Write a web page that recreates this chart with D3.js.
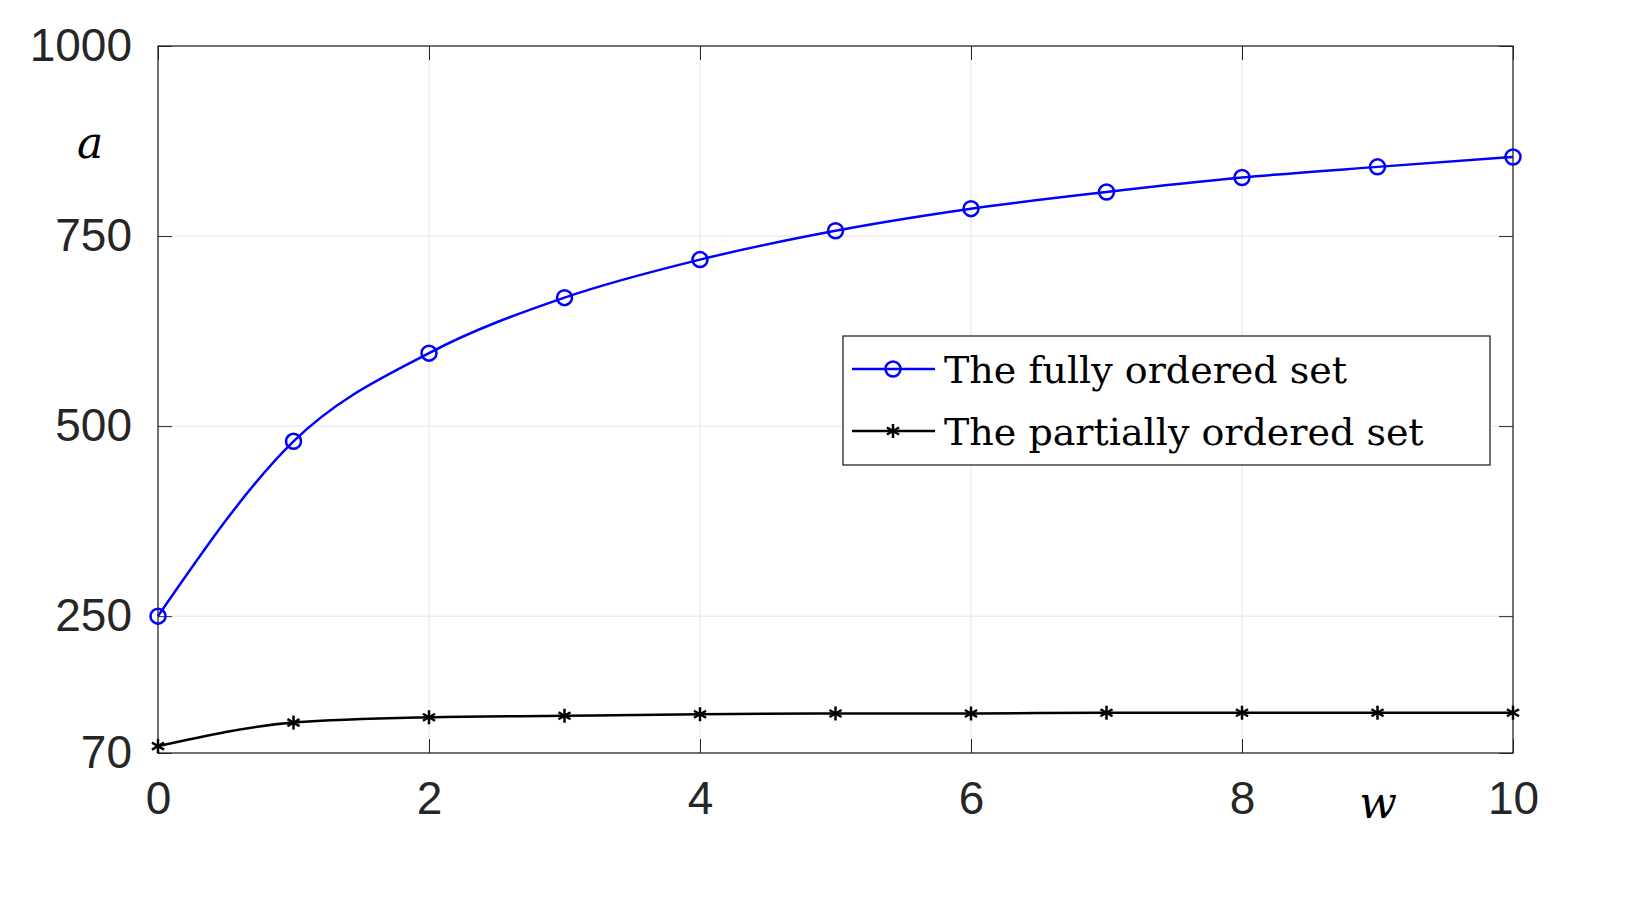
<!DOCTYPE html>
<html>
<head>
<script src="https://cdn.jsdelivr.net/npm/d3@7"></script>
<style>
  body { margin: 0; background: #fff; }
  .tick text { font-family: 'Liberation Sans', Arial, sans-serif; font-size: 46px; fill: #262626; }
</style>
</head>
<body>
<script>
var wValues = [0, 1, 2, 3, 4, 5, 6, 7, 8, 9, 10];
var fullyOrdered = [250, 480, 596, 669, 719, 757, 786, 808, 827, 841, 854];
var partiallyOrdered = [79, 110, 117, 119, 121, 122, 122, 123, 123, 123, 123];
var xTicks = [0, 2, 4, 6, 8, 10];
var yTicks = [70, 250, 500, 750, 1000];
var seriesNames = ["The fully ordered set", "The partially ordered set"];

var W = 1644, H = 910;
var pLeft = 158, pRight = 1513, pTop = 46, pBottom = 753;

var svg = d3.select("body").append("svg").attr("width", W).attr("height", H);

var x = d3.scaleLinear().domain([0, 10]).range([pLeft, pRight]);
var y = d3.scaleLinear().domain([70, 1000]).range([pBottom, pTop]);

// grid
svg.append("g").selectAll("line").data(xTicks.slice(1, -1)).enter().append("line")
  .attr("x1", d => x(d)).attr("x2", d => x(d)).attr("y1", pTop).attr("y2", pBottom)
  .attr("stroke", "#e3e3e3").attr("stroke-width", 1);
svg.append("g").selectAll("line").data([250, 500, 750]).enter().append("line")
  .attr("x1", pLeft).attr("x2", pRight).attr("y1", d => y(d)).attr("y2", d => y(d))
  .attr("stroke", "#e3e3e3").attr("stroke-width", 1);

// axes
var tk = 14;
svg.append("g").attr("transform", "translate(0," + pBottom + ")")
  .call(d3.axisBottom(x).tickValues(xTicks).tickSize(-tk).tickPadding(tk + 14))
  .call(g => g.select(".domain").remove());
svg.append("g").attr("transform", "translate(0," + pTop + ")")
  .call(d3.axisTop(x).tickValues(xTicks).tickSize(-tk).tickFormat(""))
  .call(g => g.select(".domain").remove());
svg.append("g").attr("transform", "translate(" + pLeft + ",0)")
  .call(d3.axisLeft(y).tickValues(yTicks).tickFormat(d3.format("d")).tickSize(-tk).tickPadding(tk + 12))
  .call(g => g.select(".domain").remove());
svg.append("g").attr("transform", "translate(" + pRight + ",0)")
  .call(d3.axisRight(y).tickValues(yTicks).tickSize(-tk).tickFormat(""))
  .call(g => g.select(".domain").remove());
svg.selectAll(".tick line").attr("stroke", "#262626");

svg.append("rect").attr("x", pLeft).attr("y", pTop).attr("width", pRight - pLeft).attr("height", pBottom - pTop)
  .attr("fill", "none").attr("stroke", "#262626").attr("stroke-width", 1.3);

// axis labels
svg.append("text").attr("x", 90).attr("y", 158).attr("text-anchor", "middle")
  .attr("font-family", "'DejaVu Serif', serif").attr("font-style", "italic").attr("font-size", 44).text("a");
svg.append("text").attr("x", 1378).attr("y", 818).attr("text-anchor", "middle")
  .attr("font-family", "'DejaVu Serif', serif").attr("font-style", "italic").attr("font-size", 44).text("w");

var line = d3.line().curve(d3.curveMonotoneX);

function drawSeries(vals, color, marker) {
  svg.append("path").attr("d", line(wValues.map((w, i) => [x(w), y(vals[i])])))
    .attr("fill", "none").attr("stroke", color).attr("stroke-width", 2.5);
  wValues.forEach((w, i) => marker(x(w), y(vals[i])));
}
function circleMarker(cx, cy) {
  svg.append("circle").attr("cx", cx).attr("cy", cy).attr("r", 7.5)
    .attr("fill", "none").attr("stroke", "#0000ff").attr("stroke-width", 2.5);
}
function starMarker(cx, cy) {
  var r = 7;
  [0, 60, 120].forEach(a => {
    var t = a * Math.PI / 180;
    svg.append("line").attr("x1", cx - r * Math.sin(t)).attr("y1", cy - r * Math.cos(t))
      .attr("x2", cx + r * Math.sin(t)).attr("y2", cy + r * Math.cos(t))
      .attr("stroke", "#000").attr("stroke-width", 2.5);
  });
}
drawSeries(fullyOrdered, "#0000ff", circleMarker);
drawSeries(partiallyOrdered, "#000000", starMarker);

// legend
svg.append("rect").attr("x", 843).attr("y", 336).attr("width", 647).attr("height", 129)
  .attr("fill", "#fff").attr("stroke", "#262626").attr("stroke-width", 1.3);
[["#0000ff", circleMarker, 369], ["#000", starMarker, 431]].forEach((s, i) => {
  svg.append("line").attr("x1", 852).attr("x2", 935).attr("y1", s[2]).attr("y2", s[2])
    .attr("stroke", s[0]).attr("stroke-width", 2.5);
  s[1](893, s[2]);
  svg.append("text").attr("x", 944).attr("y", s[2] + 14)
    .attr("font-family", "'DejaVu Serif', serif").attr("font-size", 38).attr("fill", "#000")
    .text(seriesNames[i]);
});
</script>
</body>
</html>
